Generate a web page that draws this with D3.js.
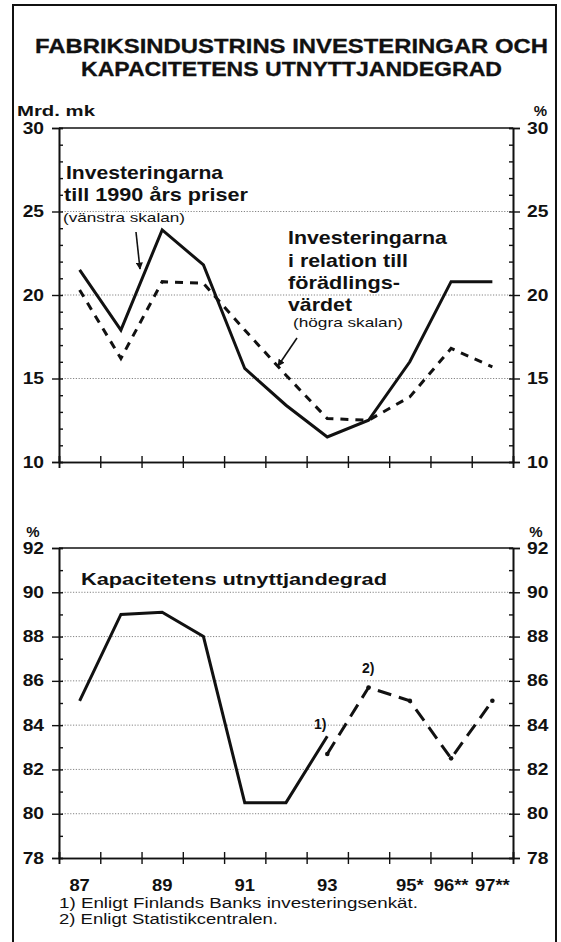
<!DOCTYPE html>
<html>
<head>
<meta charset="utf-8">
<script src="https://cdn.jsdelivr.net/npm/d3@7"></script>
<style>
  html, body { margin: 0; padding: 0; background: #fff; }
  svg { display: block; }
  text { font-family: "Liberation Sans", Arial, Helvetica, sans-serif; fill: #111; }
</style>
</head>
<body>
<svg id="chart" width="561" height="942"></svg>
<script>
// Years on the horizontal axis and the labels printed under them
const years = ["87", "88", "89", "90", "91", "92", "93", "94", "95", "96", "97"];
const yearLabels = ["87", "", "89", "", "91", "", "93", "", "95*", "96**", "97**"];

// Investments at 1990 prices, billion mk (left scale)
const investments = [21.5, 17.9, 23.9, 21.8, 15.6, 13.4, 11.5, 12.5, 16.0, 20.8, 20.8];
// Investments relative to value added, % (right scale)
const investShare = [20.3, 16.2, 20.8, 20.7, 17.9, 15.2, 12.6, 12.5, 13.9, 16.8, 15.7];

// Capacity utilisation rate, %
const capacityYears = ["87", "88", "89", "90", "91", "92", "93"];
const capacity = [85.1, 89.0, 89.1, 88.0, 80.5, 80.5, 83.5];
const forecastYears = ["93", "94", "95", "96", "97"];
const capacityForecast = [82.7, 85.7, 85.1, 82.5, 85.1];

// Axis ticks
const topMajor = [10, 15, 20, 25, 30];
const topMinor = d3.range(10, 31, 1);
const botMajor = [78, 80, 82, 84, 86, 88, 90, 92];
const botMinor = d3.range(78, 93, 1);

const svg = d3.select("#chart");
const INK = "#111";

// widen bold numerals a little, like the printed typeface
function widen(sel, k) {
  sel.each(function () {
    const w = this.getComputedTextLength();
    if (w > 0) d3.select(this).attr("textLength", w * k).attr("lengthAdjust", "spacingAndGlyphs");
  });
}

// Page frame
svg.append("path")
  .attr("d", "M13,945 V5 H556 V945")
  .attr("fill", "none").attr("stroke", INK).attr("stroke-width", 2);

// Title
svg.append("text").attr("x", 35).attr("y", 53)
  .attr("textLength", 513).attr("lengthAdjust", "spacingAndGlyphs")
  .attr("font-size", 20).attr("font-weight", "bold")
  .attr("stroke", INK).attr("stroke-width", 0.3)
  .text("FABRIKSINDUSTRINS  INVESTERINGAR  OCH");
svg.append("text").attr("x", 81).attr("y", 76)
  .attr("textLength", 421).attr("lengthAdjust", "spacingAndGlyphs")
  .attr("font-size", 20).attr("font-weight", "bold")
  .attr("stroke", INK).attr("stroke-width", 0.3)
  .text("KAPACITETENS  UTNYTTJANDEGRAD");

// Shared horizontal scales
const L = 59, R = 513;
const x = d3.scaleBand().domain(years).range([L, R]).paddingInner(0).paddingOuter(0);
const xEdge = d3.scaleLinear().domain([0, years.length]).range([L, R]);
const cx = d => x(d) + x.bandwidth() / 2;

function panel(g, y, major, minor, fmt) {
  const [y0, y1] = y.range();
  // dotted grid lines
  g.append("g").selectAll("line")
    .data(major.filter(v => v !== y.domain()[0] && v !== y.domain()[1]))
    .join("line")
    .attr("x1", L).attr("x2", R)
    .attr("y1", d => y(d)).attr("y2", d => y(d))
    .attr("stroke", "#666").attr("stroke-width", 0.8).attr("stroke-dasharray", "1.2,1.6");

  // frame top
  g.append("line").attr("x1", L).attr("x2", R).attr("y1", y1).attr("y2", y1)
    .attr("stroke", INK).attr("stroke-width", 1.6);

  // left axis: major ticks outward with labels, minor ticks inward
  g.append("g").attr("transform", `translate(${L},0)`)
    .call(d3.axisLeft(y).tickValues(major).tickSize(7).tickPadding(8).tickFormat(fmt));
  g.append("g").attr("transform", `translate(${L},0)`)
    .call(d3.axisRight(y).tickValues(minor).tickSize(4).tickFormat(""));
  g.append("g").attr("transform", `translate(${R},0)`)
    .call(d3.axisRight(y).tickValues(major).tickSize(7).tickPadding(7).tickFormat(fmt));
  g.append("g").attr("transform", `translate(${R},0)`)
    .call(d3.axisLeft(y).tickValues(minor).tickSize(4).tickFormat(""));

  // bottom axis: ticks crossing the line at each year boundary
  g.append("g").attr("transform", `translate(0,${y0})`)
    .call(d3.axisBottom(xEdge).ticks(years.length).tickSize(6).tickFormat(""));
  g.append("g").attr("transform", `translate(0,${y0})`)
    .call(d3.axisTop(xEdge).ticks(years.length).tickSize(6).tickFormat(""));

  g.selectAll(".domain").attr("stroke", INK).attr("stroke-width", 1.6);
  g.selectAll(".tick line").attr("stroke", INK).attr("stroke-width", 1.4);
  const labels = g.selectAll(".tick text")
    .attr("font-family", "Liberation Sans, Arial, sans-serif")
    .attr("font-size", 16).attr("font-weight", "bold").attr("fill", INK);
  widen(labels, 1.2);
}

// ---------- Upper panel: investments ----------
const yTop = d3.scaleLinear().domain([10, 30]).range([462, 128]);
const gTop = svg.append("g");
panel(gTop, yTop, topMajor, topMinor, d3.format("d"));

gTop.append("text").attr("x", 17).attr("y", 116)
  .attr("textLength", 78).attr("lengthAdjust", "spacingAndGlyphs")
  .attr("font-size", 15).attr("font-weight", "bold").text("Mrd. mk");
gTop.append("text").attr("x", 547).attr("y", 116).attr("text-anchor", "end")
  .attr("font-size", 15).attr("font-weight", "bold").text("%");

const lineTop = d3.line().x((d, i) => cx(years[i])).y(d => yTop(d));
gTop.append("path").datum(investShare).attr("d", lineTop)
  .attr("fill", "none").attr("stroke", INK).attr("stroke-width", 3)
  .attr("stroke-dasharray", "8,7");
gTop.append("path").datum(investments).attr("d", lineTop)
  .attr("fill", "none").attr("stroke", INK).attr("stroke-width", 3)
  .attr("stroke-linejoin", "miter");

// arrowhead marker
const defs = svg.append("defs");
defs.append("marker").attr("id", "arrow").attr("viewBox", "0 0 10 10")
  .attr("refX", 9).attr("refY", 5).attr("markerWidth", 4.5).attr("markerHeight", 4.5)
  .attr("orient", "auto").attr("markerUnits", "strokeWidth")
  .append("path").attr("d", "M0,0 L10,5 L0,10 z").attr("fill", INK);

function label(g, x0, y0, w, txt, size, bold) {
  g.append("text").attr("x", x0).attr("y", y0)
    .attr("textLength", w).attr("lengthAdjust", "spacingAndGlyphs")
    .attr("font-size", size).attr("font-weight", bold ? "bold" : "normal").text(txt);
}

// labels for the left-scale series
label(gTop, 66, 179, 157, "Investeringarna", 18.5, true);
label(gTop, 64, 201, 184, "till 1990 års priser", 18.5, true);
label(gTop, 63, 222, 122, "(vänstra skalan)", 13, false);
gTop.append("line").attr("x1", 136).attr("y1", 232).attr("x2", 140).attr("y2", 269)
  .attr("stroke", INK).attr("stroke-width", 1.6).attr("marker-end", "url(#arrow)");

// labels for the right-scale series
label(gTop, 288, 244, 159, "Investeringarna", 18.5, true);
label(gTop, 288, 267, 120, "i relation till", 18.5, true);
label(gTop, 288, 289, 112, "förädlings-", 18.5, true);
label(gTop, 288, 311, 64, "värdet", 18.5, true);
label(gTop, 293, 327, 110, "(högra skalan)", 13, false);
gTop.append("line").attr("x1", 297).attr("y1", 338).attr("x2", 278).attr("y2", 366)
  .attr("stroke", INK).attr("stroke-width", 1.6).attr("marker-end", "url(#arrow)");

// ---------- Lower panel: capacity utilisation ----------
const yBot = d3.scaleLinear().domain([78, 92]).range([858, 548]);
const gBot = svg.append("g");
panel(gBot, yBot, botMajor, botMinor, d3.format("d"));

gBot.append("text").attr("x", 33).attr("y", 537).attr("text-anchor", "middle")
  .attr("font-size", 15).attr("font-weight", "bold").text("%");
gBot.append("text").attr("x", 536).attr("y", 537).attr("text-anchor", "middle")
  .attr("font-size", 15).attr("font-weight", "bold").text("%");

label(gBot, 81, 585, 306, "Kapacitetens  utnyttjandegrad", 17, true);

gBot.append("path").datum(capacity)
  .attr("d", d3.line().x((d, i) => cx(capacityYears[i])).y(d => yBot(d)))
  .attr("fill", "none").attr("stroke", INK).attr("stroke-width", 3)
  .attr("stroke-linejoin", "miter");
gBot.append("path").datum(capacityForecast)
  .attr("d", d3.line().x((d, i) => cx(forecastYears[i])).y(d => yBot(d)))
  .attr("fill", "none").attr("stroke", INK).attr("stroke-width", 3)
  .attr("stroke-dasharray", "14,8");
gBot.append("g").selectAll("circle").data(capacityForecast).join("circle")
  .attr("cx", (d, i) => cx(forecastYears[i])).attr("cy", d => yBot(d))
  .attr("r", 2.3).attr("fill", INK);

gBot.append("text").attr("x", 314).attr("y", 729)
  .attr("font-size", 14).attr("font-weight", "bold").text("1)");
gBot.append("text").attr("x", 362).attr("y", 673)
  .attr("font-size", 14).attr("font-weight", "bold").text("2)");

// year labels
const yl = svg.append("g").selectAll("text").data(years).join("text")
  .attr("x", d => cx(d)).attr("y", 891).attr("text-anchor", "middle")
  .attr("font-size", 16).attr("font-weight", "bold")
  .text((d, i) => yearLabels[i]);
widen(yl, 1.15);

// footnotes
label(svg, 59, 908, 359, "1)  Enligt  Finlands  Banks  investeringsenkät.", 14, false);
label(svg, 59, 924, 219, "2)  Enligt  Statistikcentralen.", 14, false);
</script>
</body>
</html>
